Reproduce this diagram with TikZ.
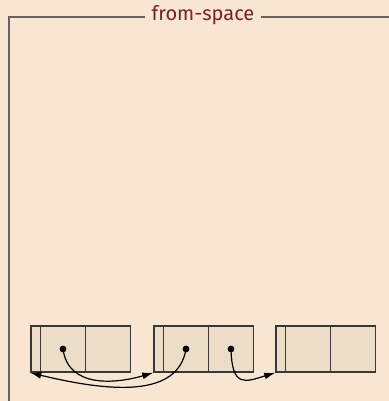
\documentclass[tikz,border=0pt]{standalone}
\usepackage{fontspec}
\setsansfont{Fira Sans}
\usetikzlibrary{arrows.meta}
\definecolor{bg}{HTML}{F8E6D2}
\definecolor{cellfill}{HTML}{EBDDC8}
\definecolor{titlered}{HTML}{7B1E2B}
\definecolor{framegray}{HTML}{6A625A}
\definecolor{boxline}{HTML}{3A3836}
\begin{document}
\begin{tikzpicture}[x=0.5pt,y=-0.5pt,
  title/.style={font=\sffamily\fontsize{10}{12}\selectfont, text=titlered, inner xsep=3pt, inner ysep=0pt},
  frameline/.style={draw=framegray, line width=0.9pt},
  cell/.style={draw=boxline, fill=cellfill, line width=0.75pt, minimum height=23pt, inner sep=0pt},
  tag/.style={cell, minimum width=4.75pt},
  slot/.style={cell, minimum width=22.5pt},
  ptr/.style={draw=black, line width=0.6pt, -{Latex[length=5.5pt,width=3.5pt]}},
  dot/.style={fill=black}]
\fill[bg] (0,0) rectangle (389,401);
\useasboundingbox (0,0) rectangle (389,401);
% title and frame
\node[title] (title) at (203,15) {from-space};
\coordinate (tl) at (9,17);
\coordinate (bl) at (9,402);
\coordinate (tr) at (390,17);
\draw[frameline] (title.west |- tl) -- (tl) -- (bl);
\draw[frameline] (title.east |- tl) -- (tr);
% box 1
\node[tag]  (b1a) at (35.75,349) {};
\node[slot] (b1b) at (63,349) {};
\node[slot] (b1c) at (108,349) {};
% box 2
\node[tag]  (b2a) at (158.75,349) {};
\node[slot] (b2b) at (186,349) {};
\node[slot] (b2c) at (231,349) {};
% box 3
\node[tag]  (b3a) at (280.75,349) {};
\node[slot] (b3b) at (308,349) {};
\node[slot] (b3c) at (353,349) {};
% dots
\fill[dot] (b1b.center) circle (1.7pt);
\fill[dot] (b2b.center) circle (1.7pt);
\fill[dot] (b2c.center) circle (1.7pt);
% pointers
\draw[ptr] (b1b.center) .. controls (68,388) and (115,384) .. (b2a.south west);
\draw[ptr] (b2b.center) .. controls (178,398) and (110,392) .. (b1a.south west);
\draw[ptr] (b2c.center) .. controls (232,388) and (245,382) .. (b3a.south west);
\end{tikzpicture}
\end{document}
